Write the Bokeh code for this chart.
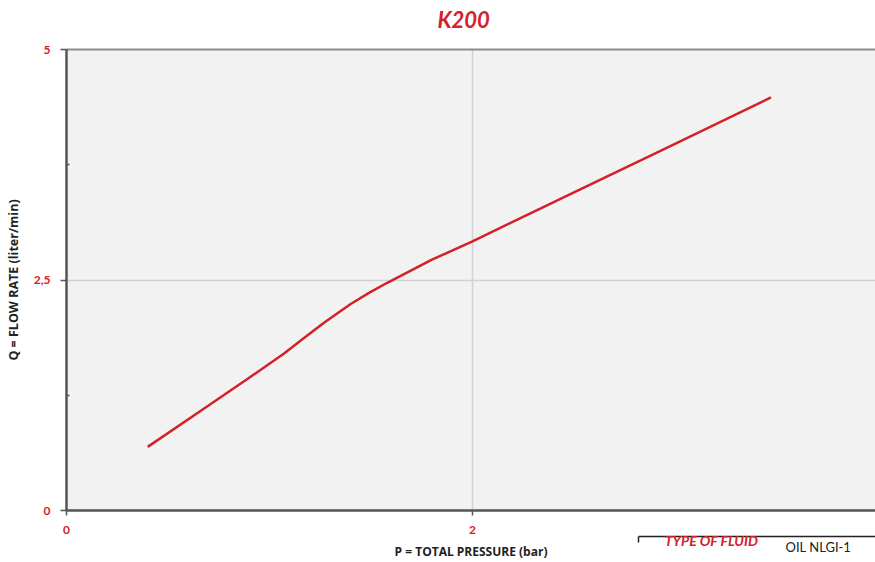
from bokeh.plotting import figure
from bokeh.models import FixedTicker, LinearAxis, Range1d
from bokeh.embed import file_html
from bokeh.resources import INLINE

# ---- data ----
pressure = [0.40, 0.66, 0.90, 1.07, 1.17, 1.27, 1.40, 1.49, 1.58, 1.80, 2.00, 2.50, 3.00, 3.47]
flow = [0.69, 1.08, 1.44, 1.70, 1.87, 2.04, 2.24, 2.36, 2.47, 2.72, 2.92, 3.45, 3.98, 4.48]
x_ticks = [0, 2, 4]
y_ticks = [0, 2.5, 5]
y_minor = [1.25, 3.75]
y_tick_labels = {0: "0", 2.5: "2,5", 5: "5"}
title_text = "K200"
x_label = "P = TOTAL PRESSURE (bar)"
y_label = "Q = FLOW RATE (liter/min)"
fluid_key = "TYPE OF FLUID"
fluid_val = "OIL NLGI-1"

# anchor positions (in x data units) for texts placed outside the frame
TITLE_X = 1.956
BOX_LEFT = 2.818
KEY_X = 3.177
VAL_X = 3.704

RED = "#d42027"
DARK = "#222222"
FONT = "Lato"

p = figure(width=875, height=562, output_backend="svg", toolbar_location=None,
           x_range=Range1d(0, 3.985), y_range=Range1d(0, 5),
           min_border_left=66, min_border_right=0, min_border_top=49, min_border_bottom=52)
p.title.text = ""
p.title.visible = False

# keep handles on the figure's own axes before any extra axis is added
xa = p.below[0]
ya = p.left[0]

p.background_fill_color = "#f2f2f2"
p.border_fill_color = "white"
p.outline_line_color = None

p.line(pressure, flow, line_color=RED, line_width=2.5, line_join="round")


def bare_axis(**kw):
    """An axis with nothing drawn unless asked for."""
    ax = LinearAxis(axis_line_color=None, major_tick_line_color=None, minor_tick_line_color=None,
                    major_tick_out=0, major_tick_in=0, minor_tick_out=0, minor_tick_in=0,
                    major_label_standoff=0)
    for k, v in kw.items():
        setattr(ax, k, v)
    return ax


# ---- main x axis ----
xa.ticker = FixedTicker(ticks=x_ticks, minor_ticks=[])
xa.axis_line_color = "#555555"
xa.axis_line_width = 2.5
xa.major_tick_line_color = "#555555"
xa.major_tick_line_width = 1.5
xa.major_tick_out = 5
xa.major_tick_in = 0
xa.minor_tick_out = 0
xa.minor_tick_in = 0
xa.minor_tick_line_color = None
xa.major_label_text_color = RED
xa.major_label_text_font = FONT
xa.major_label_text_font_style = "bold"
xa.major_label_text_font_size = "12px"
xa.major_label_standoff = 10

# ---- y axis ----
ya.ticker = FixedTicker(ticks=y_ticks, minor_ticks=y_minor)
ya.major_label_overrides = y_tick_labels
ya.axis_line_color = "#555555"
ya.axis_line_width = 2.5
ya.major_tick_line_color = "#555555"
ya.major_tick_line_width = 1.5
ya.major_tick_out = 6
ya.major_tick_in = 0
ya.minor_tick_line_color = "#555555"
ya.minor_tick_line_width = 1.5
ya.minor_tick_in = 3
ya.minor_tick_out = 0
ya.major_label_text_color = RED
ya.major_label_text_font = FONT
ya.major_label_text_font_style = "bold"
ya.major_label_text_font_size = "12px"
ya.major_label_standoff = 10
ya.axis_label = y_label
ya.axis_label_text_font = "Open Sans"
ya.axis_label_text_font_style = "bold"
ya.axis_label_text_font_size = "12.5px"
ya.axis_label_text_color = DARK
ya.axis_label_standoff = 9

# ---- top: frame border + title as a label of the top axis ----
top = bare_axis(ticker=FixedTicker(ticks=[TITLE_X], minor_ticks=[]),
                major_label_overrides={TITLE_X: title_text},
                axis_line_color="#8c8c8c", axis_line_width=2,
                major_label_text_color=RED, major_label_text_font=FONT,
                major_label_text_font_style="bold italic", major_label_text_font_size="22px",
                major_label_standoff=17)
p.add_layout(top, "above")

# ---- below the x axis: spacer, fluid box edge, fluid texts, axis title ----
spacer = bare_axis(ticker=FixedTicker(ticks=[], minor_ticks=[]), major_tick_out=4,
                   major_label_text_color=None)
p.add_layout(spacer, "below")

box_edge = bare_axis(ticker=FixedTicker(ticks=[BOX_LEFT], minor_ticks=[]),
                     bounds=(BOX_LEFT, 4.5),
                     axis_line_color=DARK, axis_line_width=1.5,
                     major_tick_line_color=DARK, major_tick_line_width=1.5, major_tick_out=6,
                     major_label_overrides={BOX_LEFT: ""}, major_label_text_font_size="0px",
                     major_label_text_color=None)
p.add_layout(box_edge, "below")

key = bare_axis(ticker=FixedTicker(ticks=[KEY_X], minor_ticks=[]),
                major_label_overrides={KEY_X: fluid_key},
                major_label_text_color=RED, major_label_text_font=FONT,
                major_label_text_font_style="bold italic", major_label_text_font_size="14px",
                major_label_standoff=-11)
p.add_layout(key, "below")

val = bare_axis(ticker=FixedTicker(ticks=[VAL_X], minor_ticks=[]),
                major_label_overrides={VAL_X: fluid_val},
                major_label_text_color=DARK, major_label_text_font=FONT,
                major_label_text_font_size="13px",
                major_label_standoff=-13)
p.add_layout(val, "below")

xlab = bare_axis(ticker=FixedTicker(ticks=[], minor_ticks=[]), major_label_text_color=None,
                 axis_label=x_label, axis_label_text_font="Open Sans",
                 axis_label_text_font_style="bold", axis_label_text_font_size="12px",
                 axis_label_text_color=DARK, axis_label_standoff=-15)
p.add_layout(xlab, "below")

# ---- grid ----
p.xgrid.ticker = FixedTicker(ticks=x_ticks)
p.ygrid.ticker = FixedTicker(ticks=y_ticks)
p.xgrid.grid_line_color = "#d2d2d2"
p.ygrid.grid_line_color = "#d2d2d2"
p.xgrid.grid_line_width = 1.5
p.ygrid.grid_line_width = 1.5

open("out.html", "w").write(file_html(p, INLINE))
